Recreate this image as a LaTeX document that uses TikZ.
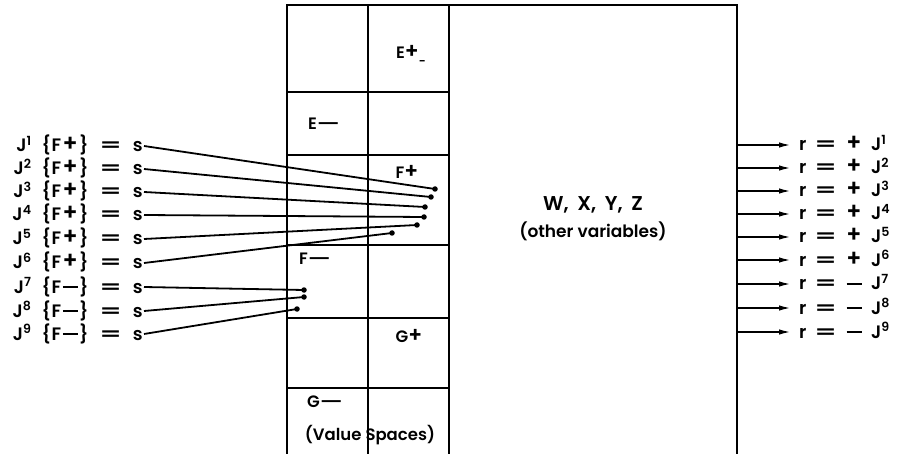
\documentclass[tikz,border=0pt]{standalone}
\usepackage{fontspec}
\setmainfont{Poppins}[UprightFont=* SemiBold]
\usetikzlibrary{arrows.meta}
\newcommand{\weq}{\scalebox{1.7}[1.0]{=}}
\newcommand{\wplus}{\scalebox{1.25}[1.3]{+}}
\newcommand{\wdash}{\scalebox{1.5}[1.0]{—}}
\newcommand{\ldash}{\rule[5pt]{15pt}{1.8pt}}
\newcommand{\sgbox}[1]{\makebox[18pt]{#1}}
\begin{document}
\begin{tikzpicture}[x=1pt,y=-1pt,
  boxline/.style={line width=2.2pt},
  conn/.style={line width=1.8pt},
  dotc/.style={circle,fill,inner sep=0pt,minimum size=5.5pt},
  lab/.style={font=\fontsize{18}{20}\selectfont, inner sep=0pt, anchor=base east},
  rlab/.style={font=\fontsize{18}{20}\selectfont, inner sep=0pt, anchor=base west},
  cell/.style={font=\fontsize{16.5}{18}\selectfont, inner sep=0pt},
  big/.style={font=\fontsize{20}{22}\selectfont, inner sep=0pt},
  outarrow/.style={line width=1.8pt,-{Latex[length=12pt,width=5.5pt]}}
]
\useasboundingbox (0,0) rectangle (899,454);
% grid
\draw[boxline] (287,454) -- (287,5) -- (737,5) -- (737,454);
\draw[boxline] (368,5) -- (368,454);
\draw[boxline] (449,5) -- (449,454);
\foreach \yy in {92,155,245,318,388} \draw[boxline] (287,\yy) -- (449,\yy);
% cell labels
\node[cell] (ep) at (411,55) {E\wplus\raisebox{-7pt}{\fontsize{12}{12}\selectfont -}};
\node[cell] (em) at (324,124) {E\wdash};
\node[cell] (fp) at (407,172) {F\wplus};
\node[cell] (fm) at (315,259) {F\wdash};
\node[cell] (gp) at (409,336) {G\wplus};
\node[cell] (gm) at (325,402) {G\wdash};
\node[cell] (vs) at (370,435) {(Value Spaces)};
\node[big] (w) at (593,205) {W,\hspace{4pt} X,\hspace{4pt} Y,\hspace{4pt} Z};
\node[cell,font=\fontsize{17}{19}\selectfont] (ov) at (593,231) {(other variables)};
% left labels and connectors
\foreach \i/\yy/\sg/\dx/\dy in {1/146/\wplus/435/189, 2/169/\wplus/431/197, 3/192/\wplus/425/207, 4/215/\wplus/424/217, 5/239/\wplus/417/225, 6/263/\wplus/392/233, 7/287/\ldash/304/290, 8/311/\ldash/304/297, 9/334/\ldash/297/309} {
  \node[lab] (L\i) at (143,\yy+6) {J\textsuperscript{\i}\hspace{10pt}\{\hspace{1pt}F\sgbox{\sg}\}\hspace{11pt}\weq\hspace{11pt}s};
  \node[dotc] (D\i) at (\dx,\dy) {};
  \coordinate (S\i) at (144,\yy);
  \draw[conn] (S\i) -- (D\i.center);
}
% right arrows
\foreach \i/\yy/\sg in {1/145/\wplus, 2/168/\wplus, 3/191/\wplus, 4/214/\wplus, 5/237/\wplus, 6/260/\wplus, 7/284/\ldash, 8/308/\ldash, 9/332/\ldash} {
  \coordinate (A\i) at (737,\yy);
  \coordinate (B\i) at (791,\yy);
  \node[rlab] (R\i) at (799,\yy+6) {r\hspace{8pt}\weq\hspace{8pt}\sgbox{\sg}\hspace{8pt}J\textsuperscript{\i}};
  \draw[outarrow] (A\i) -- (B\i);
}
\end{tikzpicture}
\end{document}
